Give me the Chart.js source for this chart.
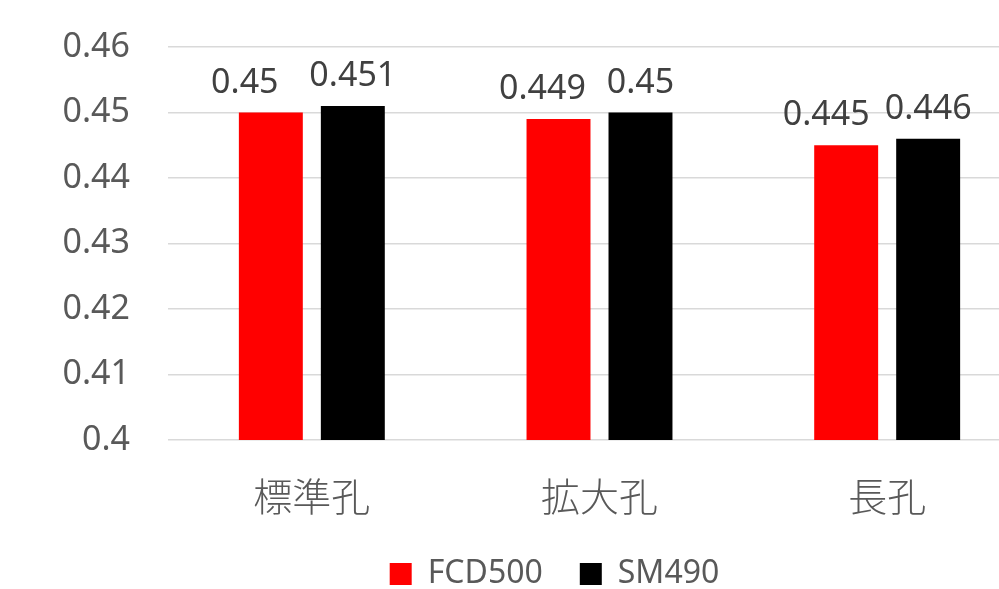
<!DOCTYPE html>
<html>
<head>
<meta charset="utf-8">
<script src="https://cdn.jsdelivr.net/npm/chart.js@4"></script>
<style>
  html, body { margin: 0; padding: 0; background: #fff; overflow: hidden; }
  #wrap { width: 1031px; height: 589px; }
</style>
</head>
<body>
<div id="wrap"><canvas id="c" width="1031" height="589"></canvas></div>
<script>
// 穴の種類ごとのすべり係数
const categories = ['標準孔', '拡大孔', '長孔'];
const seriesNames = ['FCD500', 'SM490'];
const fcd500 = [0.45, 0.449, 0.445];
const sm490 = [0.451, 0.45, 0.446];
const yTicks = [0.4, 0.41, 0.42, 0.43, 0.44, 0.45, 0.46];

// 値ラベルの横ずらし (系列ごと、px)
const labelShiftX = [[-26, -16, -20], [0, 0, 0]];

const numFont = 'Noto Sans, DejaVu Sans, sans-serif';
const cjkFont = '"Noto Sans CJK JP", "Noto Sans", sans-serif';

// 各棒の上に値を描く
const valueLabels = {
  id: 'valueLabels',
  afterDatasetsDraw(chart) {
    const ctx = chart.ctx;
    ctx.save();
    ctx.font = '34px ' + numFont;
    ctx.fillStyle = '#404040';
    ctx.textAlign = 'center';
    ctx.textBaseline = 'alphabetic';
    chart.data.datasets.forEach((ds, i) => {
      chart.getDatasetMeta(i).data.forEach((bar, j) => {
        ctx.fillText(String(ds.data[j]), bar.x + labelShiftX[i][j], bar.y - 20);
      });
    });
    ctx.restore();
  }
};

// 凡例を少し右へ寄せる
const legendShift = {
  id: 'legendShift',
  afterLayout(chart) {
    const lg = chart.legend;
    if (lg) { lg.left += 8; lg.right += 8; }
  }
};

new Chart(document.getElementById('c'), {
  type: 'bar',
  data: {
    labels: categories,
    datasets: [
      { label: seriesNames[0], data: fcd500, backgroundColor: '#ff0000',
        categoryPercentage: 0.57, barPercentage: 0.78 },
      { label: seriesNames[1], data: sm490, backgroundColor: '#000000',
        categoryPercentage: 0.57, barPercentage: 0.78 }
    ]
  },
  options: {
    responsive: false,
    animation: false,
    events: [],
    layout: { padding: { left: 62, right: 0, top: 47, bottom: -11 } },
    plugins: {
      tooltip: { enabled: false },
      legend: {
        position: 'bottom',
        labels: {
          boxWidth: 22,
          boxHeight: 22,
          padding: 37,
          color: '#595959',
          font: { family: numFont, size: 32 }
        }
      }
    },
    scales: {
      x: {
        grid: { display: false, drawTicks: false },
        border: { display: false },
        ticks: {
          color: '#595959',
          padding: 33,
          font: { family: cjkFont, size: 39, weight: 300 }
        },
        afterFit(scale) { scale.height = 81; }
      },
      y: {
        min: yTicks[0],
        max: yTicks[yTicks.length - 1],
        afterBuildTicks(scale) { scale.ticks = yTicks.map(v => ({ value: v })); },
        grid: { color: '#d9d9d9', lineWidth: 1.5, drawTicks: true, tickLength: 30, tickColor: 'rgba(0,0,0,0)' },
        border: { display: false },
        ticks: {
          color: '#595959',
          padding: 8,
          font: { family: numFont, size: 34 },
          callback: v => String(Number(v.toFixed(2)))
        },
        afterFit(scale) { scale.width = 106; }
      }
    }
  },
  plugins: [valueLabels, legendShift]
});
</script>
</body>
</html>
